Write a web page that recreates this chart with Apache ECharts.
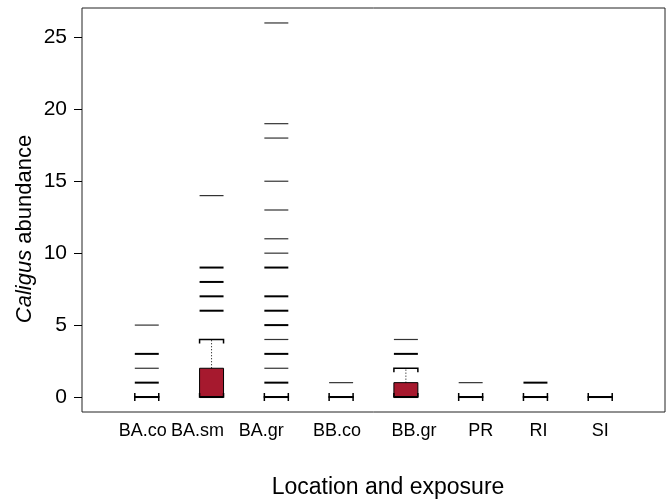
<!DOCTYPE html>
<html>
<head>
<meta charset="utf-8">
<script src="https://cdn.jsdelivr.net/npm/echarts@6/dist/echarts.min.js"></script>
<style>
  html, body { margin: 0; padding: 0; background: #fff; }
  #chart { width: 670px; height: 502px; }
</style>
</head>
<body>
<div id="chart"></div>
<script>
// ---- data ----
const categories = ['BA.co', 'BA.sm', 'BA.gr', 'BB.co', 'BB.gr', 'PR', 'RI', 'SI'];
const boxMin    = [0, 0, 0, 0, 0, 0, 0, 0];
const boxQ1     = [0, 0, 0, 0, 0, 0, 0, 0];
const boxMedian = [0, 0, 0, 0, 0, 0, 0, 0];
const boxQ3     = [0, 2, 0, 0, 1, 0, 0, 0];
const boxMax    = [0, 4, 0, 0, 2, 0, 0, 0];
// outliers (repeated values = overplotted points)
const outBAco = [1, 1, 2, 3, 3, 5];
const outBAsm = [6, 6, 7, 7, 8, 8, 9, 9, 14];
const outBAgr = [1, 1, 2, 3, 3, 4, 5, 5, 6, 6, 7, 7, 9, 9, 10, 11, 13, 15, 18, 19, 26];
const outBBco = [1];
const outBBgr = [3, 3, 4];
const outPR   = [1];
const outRI   = [1, 1];
const outSI   = [];
const yTicks  = [0, 5, 10, 15, 20, 25];

const outliers = [outBAco, outBAsm, outBAgr, outBBco, outBBgr, outPR, outRI, outSI];

// ---- layout (label nudges in px, as in the reference) ----
const labelNudgePx = [-4, -14, -15, -4, 8, 10, 3, 0];
const UNIT_PX = 583 / 9;
const labelAt = categories.map((c, i) => i + 1 + labelNudgePx[i] / UNIT_PX);

// ---- build series data ----
const boxData = categories.map((c, i) => [i + 1, boxMin[i], boxQ1[i], boxMedian[i], boxQ3[i], boxMax[i]]);
const outData = [];
outliers.forEach((arr, i) => {
  const counts = {};
  arr.forEach(v => { counts[v] = (counts[v] || 0) + 1; });
  Object.keys(counts).forEach(v => outData.push([i + 1, Number(v), counts[v]]));
});

const BOX_W = 0.37;
const FONT = '"Liberation Sans", Arial, Helvetica, sans-serif';

const chart = echarts.init(document.getElementById('chart'), null, { renderer: 'canvas' });

chart.setOption({
  animation: false,
  backgroundColor: '#fff',
  grid: { left: 82, right: 5, top: 8, bottom: 90, show: true, borderColor: '#222', borderWidth: 1, backgroundColor: 'transparent' },
  xAxis: {
    type: 'value', min: 0, max: 9,
    axisLine: { show: false }, axisTick: { show: false }, splitLine: { show: false },
    axisLabel: {
      customValues: labelAt,
      formatter: v => {
        let best = 0, d = Infinity;
        labelAt.forEach((p, i) => { if (Math.abs(p - v) < d) { d = Math.abs(p - v); best = i; } });
        return categories[best];
      },
      color: '#000', fontSize: 18, fontFamily: FONT, margin: 10
    }
  },
  yAxis: {
    type: 'value', min: -1.04, max: 27.04,
    axisLine: { show: false }, splitLine: { show: false },
    axisTick: { show: true, length: 8, customValues: yTicks, lineStyle: { color: '#000', width: 1 } },
    axisLabel: { customValues: yTicks, color: '#000', fontSize: 21, fontFamily: FONT, margin: 15 }
  },
  graphic: [
    { type: 'text', x: 388, y: 488,
      style: { text: 'Location and exposure', font: '23px ' + FONT, fill: '#000', textAlign: 'center', textVerticalAlign: 'middle' } },
    { type: 'text', x: 25, y: 229, rotation: Math.PI / 2,
      style: { text: '{i|Caligus} abundance', font: '22px ' + FONT, fill: '#000', textAlign: 'center', textVerticalAlign: 'middle',
        rich: { i: { fontStyle: 'italic', fontSize: 22, fontFamily: FONT } } } }
  ],
  series: [
    {
      type: 'custom',
      data: boxData,
      encode: { x: 0, y: [1, 2, 3, 4, 5] },
      clip: false,
      renderItem: function (params, api) {
        const x = api.value(0);
        const mn = api.value(1), q1 = api.value(2), md = api.value(3), q3 = api.value(4), mx = api.value(5);
        const cx = api.coord([x, 0])[0];
        const hw = api.size([BOX_W, 0])[0] / 2;
        const y = v => api.coord([x, v])[1];
        const children = [];
        if (q3 > q1) {
          children.push({ type: 'rect', shape: { x: cx - hw, y: y(q3), width: 2 * hw, height: y(q1) - y(q3) },
            style: { fill: '#A6192E', stroke: '#000', lineWidth: 1 } });
        }
        if (mx > q3) {
          children.push({ type: 'line', shape: { x1: cx, y1: y(q3), x2: cx, y2: y(mx) },
            style: { stroke: '#000', lineWidth: 1, lineDash: [1, 2] } });
        }
        if (q1 > mn) {
          children.push({ type: 'line', shape: { x1: cx, y1: y(q1), x2: cx, y2: y(mn) },
            style: { stroke: '#000', lineWidth: 1, lineDash: [1, 2] } });
        }
        children.push({ type: 'polyline', shape: { points: [[cx - hw, y(mx) + 4], [cx - hw, y(mx)], [cx + hw, y(mx)], [cx + hw, y(mx) + 4]] },
          style: { stroke: '#000', lineWidth: 1.5, fill: null } });
        children.push({ type: 'polyline', shape: { points: [[cx - hw, y(mn) - 4], [cx - hw, y(mn)], [cx + hw, y(mn)], [cx + hw, y(mn) - 4]] },
          style: { stroke: '#000', lineWidth: 1.5, fill: null } });
        children.push({ type: 'line', shape: { x1: cx - hw, y1: y(md), x2: cx + hw, y2: y(md) },
          style: { stroke: '#000', lineWidth: 2 } });
        return { type: 'group', children: children };
      }
    },
    {
      type: 'custom',
      data: outData,
      encode: { x: 0, y: 1 },
      clip: false,
      renderItem: function (params, api) {
        const p = api.coord([api.value(0), api.value(1)]);
        const n = api.value(2);
        const hw = api.size([BOX_W, 0])[0] / 2;
        return { type: 'line', shape: { x1: p[0] - hw, y1: p[1], x2: p[0] + hw, y2: p[1] },
          style: { stroke: n > 1 ? '#000' : '#333', lineWidth: n > 1 ? 2 : 1.2 } };
      }
    }
  ]
});
</script>
</body>
</html>
